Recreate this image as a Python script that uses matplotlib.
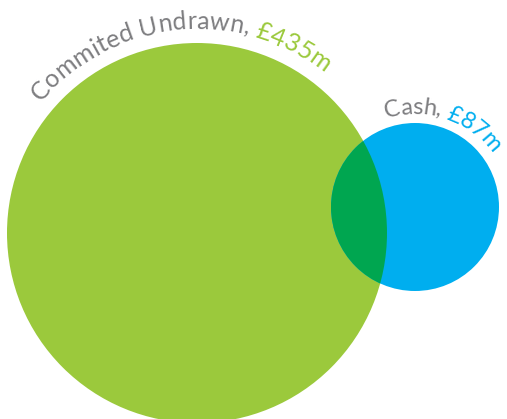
import numpy as np
import matplotlib
matplotlib.use('Agg')
import matplotlib.pyplot as plt
import matplotlib.patches as mpatches
from matplotlib import font_manager
from matplotlib.ft2font import FT2Font

# data
labels = ['Commited Undrawn', 'Cash']
values = ['£435m', '£87m']
colors = ['#9bc93c', '#00aeef']
overlap_color = '#00a650'
text_grey = '#7d7d80'

# circle geometry in pixels (y down)
centers = [(197, 233), (415, 207)]
radii = [190, 84]
text_r = [204, 93]
text_span = [(140, 51.5), (108, 35)]   # degrees, text runs clockwise

W, H = 507, 419
fig = plt.figure(figsize=(W / 100, H / 100), dpi=100)
ax = fig.add_axes([0, 0, 1, 1])
ax.set_xlim(0, W)
ax.set_ylim(H, 0)
ax.set_aspect('equal')
ax.axis('off')

circles = []
for (cx, cy), r, c in zip(centers, radii, colors):
    p = mpatches.Circle((cx, cy), r, color=c, lw=0)
    ax.add_patch(p)
    circles.append(p)

# overlap: blue circle redrawn in dark green, clipped by the green one
lens = mpatches.Circle(centers[1], radii[1], color=overlap_color, lw=0)
ax.add_patch(lens)
lens.set_clip_path(circles[0])

fp = font_manager.FontProperties(family='Lato', weight='normal')
fsize = 18
font = FT2Font(font_manager.findfont(fp))
font.set_size(fsize, 100)


def advance(ch):
    g = font.load_char(ord(ch))
    return g.linearHoriAdvance / 65536.0


def arc_text(parts, center, r, span, size):
    cx, cy = center
    chars = [(ch, col) for s, col in parts for ch in s]
    adv = [advance(ch) * size / fsize for ch, _ in chars]
    # adjust the letter spacing so the label fills its arc
    k = np.radians(span[0] - span[1]) * r / sum(adv)
    pos = 0.0
    for (ch, col), a in zip(chars, adv):
        a = a * k
        th = np.radians(span[0]) - (pos + a / 2) / r
        x = cx + r * np.cos(th)
        y = cy - r * np.sin(th)
        ax.text(x, y, ch, fontproperties=fp, fontsize=size, color=col,
                rotation=np.degrees(th) - 90, rotation_mode='anchor',
                ha='center', va='baseline')
        pos += a


sizes = [18, 17]
for i in range(2):
    arc_text([(labels[i] + ', ', text_grey), (values[i], colors[i])],
             centers[i], text_r[i], text_span[i], sizes[i])

fig.savefig('out.png', dpi=100)
